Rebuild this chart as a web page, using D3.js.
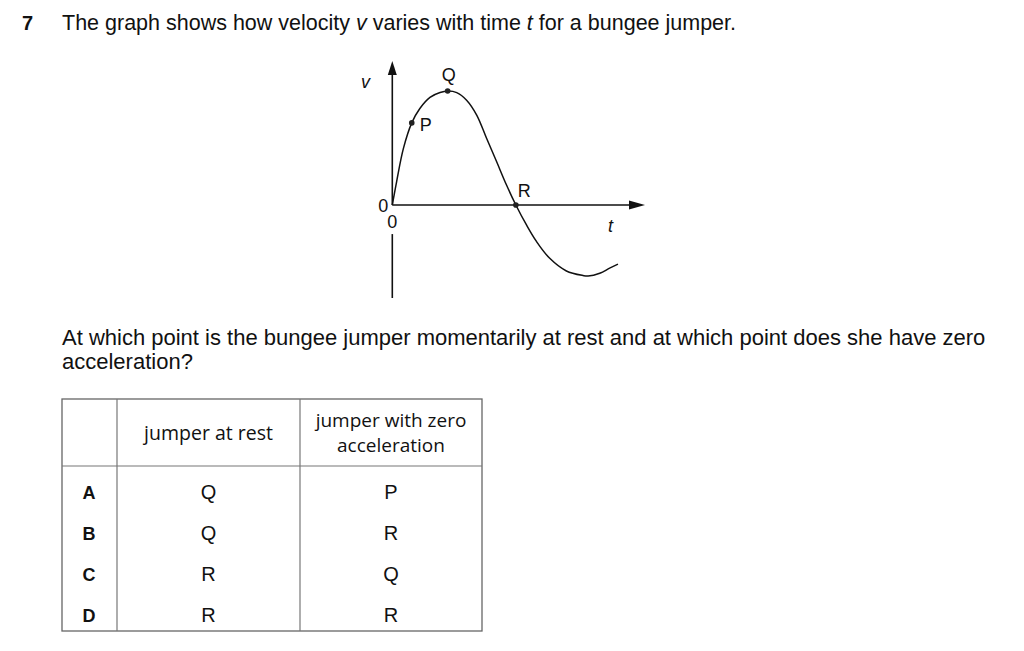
<!DOCTYPE html>
<html><head><meta charset="utf-8">
<script src="https://cdn.jsdelivr.net/npm/d3@7"></script>
<style>
body{margin:0;background:#fff;}
svg text{font-family:"Liberation Sans",Arial,sans-serif;fill:#111;}
</style></head>
<body>
<svg id="c" width="1024" height="651"></svg>
<script>
// ---- data ----
const curveT = [0,0.17,0.44,0.77,1.09,1.49,1.89,2.19,2.55,2.94,3.34,3.73,4.13,4.52,4.89,5.31,5.71,6.23,6.89,7.55,7.75,8.21,8.6,8.93];
const curveV = [0,0.92,2.24,3.25,3.82,4.26,4.45,4.51,4.45,4.15,3.56,2.64,1.71,0.79,0,-0.79,-1.45,-2.11,-2.61,-2.79,-2.81,-2.70,-2.50,-2.34];
const markNames = ["P","Q","R"];
const markT = [0.77,2.19,4.89];
const markV = [3.25,4.51,0];
const options = ["A","B","C","D"];
const atRest = ["Q","Q","R","R"];
const zeroAcc = ["P","R","Q","R"];
const headers = ["jumper at rest", ["jumper with zero","acceleration"]];

const svg = d3.select("#c");
// question text
svg.append("text").attr("x",22).attr("y",30).attr("font-size",20).attr("font-weight","bold").text("7");
const q = svg.append("text").attr("x",62).attr("y",30).attr("font-size",21.5);
q.append("tspan").text("The graph shows how velocity ");
q.append("tspan").attr("font-style","italic").text("v");
q.append("tspan").text(" varies with time ");
q.append("tspan").attr("font-style","italic").text("t");
q.append("tspan").text(" for a bungee jumper.");

// graph
const x = d3.scaleLinear().domain([0,10]).range([392.3,645]);
const y = d3.scaleLinear().domain([-3.68,5.7]).range([298,61]);
const g = svg.append("g");
// axes
g.append("line").attr("x1",x(0)).attr("x2",x(0)).attr("y1",y(5.3)).attr("y2",y(0)).attr("stroke","#111").attr("stroke-width",1.6);
g.append("line").attr("x1",x(0)).attr("x2",x(0)).attr("y1",y(-1.15)).attr("y2",y(-3.68)).attr("stroke","#111").attr("stroke-width",1.6);
g.append("line").attr("x1",x(0)).attr("x2",x(9.4)).attr("y1",y(0)).attr("y2",y(0)).attr("stroke","#111").attr("stroke-width",1.6);
// arrowheads
const ax=x(0), ay=y(5.7);
g.append("path").attr("d",`M${ax},${ay} L${ax-4.5},${ay+14} L${ax+4.5},${ay+14} Z`).attr("fill","#111");
const bx=x(10), by=y(0);
g.append("path").attr("d",`M${bx},${by} L${bx-16},${by-4.5} L${bx-16},${by+4.5} Z`).attr("fill","#111");
// curve
const pts = curveT.map((t,i)=>[t,curveV[i]]);
g.append("path").datum(pts).attr("fill","none").attr("stroke","#111").attr("stroke-width",1.5)
 .attr("d", d3.line().x(d=>x(d[0])).y(d=>y(d[1])).curve(d3.curveCatmullRom.alpha(0.5)));
// points
markNames.forEach((n,i)=>{
  g.append("circle").attr("cx",x(markT[i])).attr("cy",y(markV[i])).attr("r",2.8).attr("fill","#222");
});
const lab = (t,xx,yy,opt={})=>{const e=g.append("text").attr("x",xx).attr("y",yy).attr("font-size",opt.size||18).text(t); if(opt.italic)e.attr("font-style","italic"); if(opt.anchor)e.attr("text-anchor",opt.anchor); return e;};
lab("Q",x(markT[1])+1,y(markV[1])-10,{anchor:"middle"});
lab("P",x(markT[0])+8,y(markV[0])+8);
lab("R",x(markT[2])+2,y(markV[2])-8);
lab("v",361,88,{italic:true,size:18});
lab("0",x(0)-4,y(0)+7,{anchor:"end"});
lab("0",x(0),y(0)+23,{anchor:"middle"});
lab("t",608,232,{italic:true,size:18});

// second question
svg.append("text").attr("x",62).attr("y",345).attr("font-size",22)
 .text("At which point is the bungee jumper momentarily at rest and at which point does she have zero");
svg.append("text").attr("x",62).attr("y",369).attr("font-size",22).text("acceleration?");

// table
const colX = [62,117,300,482];
const rowY = [399,466,631];
const tb = svg.append("g");
tb.append("rect").attr("x",colX[0]).attr("y",rowY[0]).attr("width",colX[3]-colX[0]).attr("height",rowY[2]-rowY[0]).attr("fill","none").attr("stroke","#666").attr("stroke-width",1.3);
[colX[1],colX[2]].forEach(cx=>tb.append("line").attr("x1",cx).attr("x2",cx).attr("y1",rowY[0]).attr("y2",rowY[2]).attr("stroke","#777").attr("stroke-width",1.2));
tb.append("line").attr("x1",colX[0]).attr("x2",colX[3]).attr("y1",rowY[1]).attr("y2",rowY[1]).attr("stroke","#777").attr("stroke-width",1.2);
const hf = '"Open Sans","Noto Sans",sans-serif';
tb.append("text").attr("x",(colX[1]+colX[2])/2).attr("y",440).attr("text-anchor","middle").attr("font-size",19.5).style("font-family",hf).text(headers[0]);
headers[1].forEach((h,i)=>tb.append("text").attr("x",(colX[2]+colX[3])/2).attr("y",427+i*25).attr("text-anchor","middle").attr("font-size",19).style("font-family",hf).text(h));
const ry = d3.scalePoint().domain(options).range([499,622]);
options.forEach((o,i)=>{
  tb.append("text").attr("x",89).attr("y",ry(o)).attr("text-anchor","middle").attr("font-size",18).attr("font-weight","bold").text(o);
  tb.append("text").attr("x",(colX[1]+colX[2])/2).attr("y",ry(o)).attr("text-anchor","middle").attr("font-size",20).text(atRest[i]);
  tb.append("text").attr("x",(colX[2]+colX[3])/2).attr("y",ry(o)).attr("text-anchor","middle").attr("font-size",20).text(zeroAcc[i]);
});
</script>
</body></html>
